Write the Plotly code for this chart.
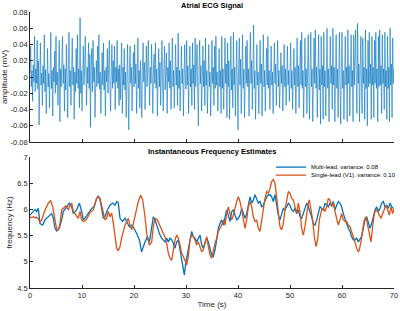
import numpy as np
import plotly.graph_objects as go

# ---------------- data ----------------
# Atrial ECG signal, values in microvolts (1 uV = 0.001 mV), sampled 8 times per second
ecg_uV = [
    5, 38, -12, 8, -30, 15, -6, 50, -18, 10, -8, 45, -15, 20, -59, 12,
    42, -10, 5, -35, 14, -8, 52, -18, 9, -45, 16, 35, -12, 4, -38, 20,
    55, -14, 8, -48, 12, -6, 32, -20, 50, -10, 6, -35, 18, 45, -55, 10,
    -12, 22, 50, -8, 15, -42, 10, -16, 40, -6, -50, 14, 55, -12, 8, -35,
    18, 48, -10, 12, -52, 6, -18, 35, -8, 52, -14, 10, -38, 73, -20, 8,
    -42, 14, 38, -10, 6, 50, -16, -35, 12, -8, 42, -14, 28, -62, 10, 35,
    -18, 45, -6, 12, -50, 8, 20, -12, 38, -8, 52, -15, 6, -45, 14, 30,
    -10, 42, -16, 8, -48, 12, -6, 35, -20, 10, 45, -12, -42, 8, 40, -14,
    20, -8, 38, -40, 12, -6, 45, -14, 10, -35, 15, -28, 8, 42, -45, 12,
    -10, 35, -16, 6, -50, 14, 40, -12, -65, 10, 38, -8, 12, -42, 6, 30,
    -12, 40, -8, 16, -45, 10, 48, -14, 8, -38, 20, -10, -50, 12, 42, -6,
    18, -40, 10, 38, -12, 6, 45, -16, -35, 12, -8, 40, -14, -45, 10, 28,
    -8, 42, -14, 10, -48, 6, 35, -12, 18, -35, 8, 45, -10, -42, 14, 38,
    -16, 8, 30, -45, 12, -6, 42, -14, 20, -40, 10, 48, -12, 8, -38, 15,
    40, -10, 12, -35, 54, -14, 8, -42, 16, 38, -8, 10, -48, 12, 40, -6,
    -15, 45, -10, 14, -45, 8, 38, -12, 10, -35, 42, -8, 15, -40, 48, -12,
    10, 40, -16, -60, 12, 45, -8, 14, -42, 6, 38, -12, 20, -35, 48, -10,
    8, -45, 15, 40, -12, 6, -48, 14, 45, -8, 12, -35, 38, -14, 50, -10,
    6, -42, 18, 35, -12, 8, -45, 50, -14, 10, -40, 12, 48, -8, 16, -50,
    42, -12, 20, -52, 8, 50, -16, 10, -38, 55, -10, 12, -48, 14, 45, -8,
    -65, 12, 48, -10, 22, -45, 8, 52, -14, 10, -50, 16, 38, -8, 45, -12,
    10, -48, 14, 55, -8, 20, -40, 12, 64, -14, 8, -52, 18, 40, -10, 6,
    -45, 12, 45, -8, 16, -48, 10, 52, -12, 8, -42, 14, 35, -10, 50, -14,
    8, -40, 14, 38, -10, 6, -45, 12, 42, -8, 16, -35, 10, 45, -12, 8,
    -38, 10, 30, -8, 14, -42, 6, 40, -12, 10, -35, 16, 38, -10, 8, -30,
    12, 42, -14, 8, -40, 16, 35, -10, 12, -45, 8, 48, -12, 14, -38, 10,
    45, -10, 55, -14, 8, -50, 16, 48, -12, 10, -45, 12, 52, -8, -52, 14,
    55, -12, 10, -55, 16, 48, -8, 58, -14, 12, -50, 8, 52, -16, 10, -58,
    50, -10, 14, -52, 55, -12, 8, -48, 16, 60, -14, 10, -55, 12, 50, -8,
    14, -40, 60, -10, 12, -55, 8, 52, -14, 10, -50, 16, 55, -12, -58, 10,
    55, -14, 8, -52, 16, 50, -10, 12, -55, 58, -8, 14, -48, 10, 52, -12,
    8, -55, 52, -10, 14, 58, -12, -45, 66, -8, 16, -55, 10, 50, -14, -45,
    48, -8, 12, -52, 58, -14, 10, -60, 45, -12, 55, -8, 16, -52, 50, -10,
    12, -50, 45, -8, 55, -14, 10, -55, 50, -12, 58, -10, 14, -45, 52, -8,
    10, -40, 55, -12, 8, -52, 50, -14, 12, -55, 60, -10, 16, -50, 48, -8,
    10,
]
ecg_fs = 8  # samples per second

# Multi-lead frequency estimate (Hz)
t_multi = [
    0, 0.51, 0.96, 1.28, 1.60, 1.92, 2.44, 2.88, 3.53, 4.17,
    4.49, 4.81, 5.13, 5.64, 6.09, 6.41, 7.05, 7.56, 8.01, 8.33,
    8.97, 9.49, 9.94, 10.26, 10.77, 11.22, 11.86, 12.31, 12.82, 13.14,
    13.46, 13.78, 14.10, 14.42, 14.87, 15.38, 15.90, 16.35, 16.67, 16.99,
    17.31, 17.82, 18.27, 18.59, 19.10, 19.55, 20.00, 20.51, 21.03, 21.47,
    21.79, 22.12, 22.56, 22.95,
    23.08, 23.40, 23.72, 24.04, 24.36, 24.68, 25.00, 25.32, 25.64, 25.96,
    26.29, 26.61, 26.93, 27.25, 27.57, 27.89, 28.21, 28.53, 28.85, 29.17,
    29.49, 29.68, 29.94, 30.26, 30.64,
    31.09, 31.41, 31.73, 32.05, 32.37, 32.70, 33.02, 33.34, 33.66, 33.98,
    34.30, 34.62, 34.94, 35.26, 35.58, 35.90, 36.22, 36.54, 36.86, 37.18,
    37.50, 37.82, 38.14, 38.46, 38.79, 39.11, 39.43, 39.75, 40.07, 40.39,
    40.71, 41.03, 41.35, 41.67, 41.99, 42.31, 42.63, 42.95, 43.27, 43.59,
    43.91, 44.23, 44.55, 44.87, 45.19, 45.52, 45.84,
    46.15, 46.47, 46.79, 47.11, 47.43, 47.75, 48.07, 48.39, 48.71, 49.03,
    49.36, 49.68, 50.00, 50.32, 50.64, 50.96, 51.28, 51.60, 51.92, 52.24,
    52.56, 52.88, 53.20, 53.52, 53.84, 54.16, 54.48, 54.80, 55.13, 55.45,
    55.77, 56.09, 56.41, 56.73, 57.05, 57.37, 57.69, 58.01, 58.33, 58.65,
    58.97, 59.29, 59.61, 59.93, 60.25, 60.57, 60.89, 61.21, 61.53, 61.86,
    62.18, 62.50, 62.82, 63.14, 63.46, 63.78, 64.10, 64.42, 64.74, 65.06,
    65.38, 65.70, 66.03, 66.35, 66.67, 66.99, 67.31, 67.63, 67.95, 68.27,
    68.59, 68.91, 69.23, 69.55, 69.87,
]
f_multi = [
    5.89, 5.94, 6.00, 5.96, 6.02, 5.73, 5.70, 5.80, 5.86, 5.92,
    5.83, 5.64, 5.59, 5.64, 5.80, 5.96, 6.05, 6.12, 6.05, 5.92,
    5.99, 6.12, 5.96, 5.80, 5.86, 5.92, 6.02, 6.05, 6.21, 6.26,
    6.18, 6.02, 5.83, 5.86, 5.99, 6.08, 6.12, 6.08, 6.15, 6.12,
    5.83, 5.77, 5.83, 5.77, 5.67, 5.70, 5.64, 5.54, 5.42, 5.19,
    5.29, 5.38, 5.48, 5.38,
    5.45, 5.70, 5.86, 5.80, 5.70, 5.61, 5.51, 5.45, 5.42, 5.38,
    5.45, 5.38, 5.45, 5.42, 5.35, 5.26, 5.38, 5.42, 5.23, 5.07,
    4.91, 4.75, 4.97, 5.16, 5.38,
    5.58, 5.48, 5.45, 5.38, 5.45, 5.51, 5.32, 5.26, 5.38, 5.45,
    5.38, 5.23, 5.13, 5.10, 5.23, 5.42, 5.64, 5.73, 5.80, 5.70,
    5.86, 5.99, 5.89, 5.77, 5.96, 5.99, 5.89, 5.80, 5.83, 5.89,
    6.02, 5.92, 5.83, 5.92, 6.12, 6.24, 6.12, 6.18, 6.28, 6.21,
    6.12, 6.15, 6.05, 6.08, 6.18, 6.24, 6.28,
    6.28, 6.24, 6.15, 6.28, 6.05, 5.89, 5.80, 5.92, 6.02, 5.99,
    6.05, 6.12, 6.08, 5.99, 5.96, 6.02, 5.92, 5.99, 5.86, 5.83,
    5.92, 6.05, 6.12, 6.05, 5.96, 5.86, 5.73, 5.70, 5.80, 5.96,
    6.05, 6.02, 5.99, 6.12, 6.08, 6.05, 6.12, 6.08, 6.15, 5.99,
    6.08, 6.15, 6.12, 6.05, 5.92, 5.80, 5.73, 5.64, 5.58, 5.48,
    5.42, 5.42, 5.45, 5.38, 5.42, 5.48, 5.64, 5.80, 5.86, 5.77,
    5.64, 5.73, 5.86, 5.99, 6.05, 5.96, 6.02, 6.12, 6.15, 6.05,
    6.08, 6.02, 6.12, 6.05, 6.02,
]

# Single-lead (V1) frequency estimate (Hz)
t_single = [
    0, 0.32, 0.64, 0.96, 1.28, 1.60, 1.92, 2.24, 2.88, 3.53,
    3.97, 4.36, 4.81, 5.13, 5.45, 5.77, 6.09, 6.41, 6.92, 7.37,
    7.69, 8.01, 8.33, 8.85, 9.29, 9.62, 9.94, 10.26, 10.90, 11.54,
    12.18, 12.82, 13.14, 13.46, 13.78, 14.10, 14.42, 14.74, 15.06, 15.38,
    15.71, 16.03, 16.35, 16.67, 16.99, 17.31, 17.63, 17.95, 18.27, 18.59,
    18.91, 19.23, 19.55, 19.87, 20.38, 20.83, 21.28, 21.67, 22.12, 22.44,
    22.95,
    23.40, 23.72, 24.04, 24.49, 25.00, 25.32, 25.64, 25.96, 26.29, 26.61,
    26.93, 27.25, 27.57, 27.89, 28.21, 28.53, 28.85, 29.17, 29.49, 29.81,
    30.13, 30.45, 30.77, 31.09, 31.41, 31.73, 32.05, 32.37, 32.70, 33.02,
    33.34, 33.66, 33.98, 34.30, 34.62, 34.94, 35.26, 35.58, 35.90, 36.22,
    36.54, 36.86, 37.18, 37.50, 37.82, 38.14, 38.46, 38.79, 39.11, 39.43,
    39.75, 40.07, 40.39, 40.71, 41.03, 41.35, 41.67, 41.99, 42.31, 42.63,
    42.95, 43.27, 43.59, 43.91, 44.23, 44.55, 44.87, 45.19, 45.52, 45.84,
    46.15, 46.47, 46.79, 47.11, 47.43, 47.75, 48.07, 48.39, 48.71, 49.03,
    49.36, 49.68, 50.00, 50.32, 50.64, 50.96, 51.28, 51.60, 51.92, 52.24,
    52.56, 52.88, 53.20, 53.52, 53.71, 53.97, 54.36, 54.68, 55.00, 55.32,
    55.64, 56.09, 56.41, 56.73, 57.05, 57.37, 57.69, 58.01, 58.33, 58.65,
    58.97, 59.29, 59.61, 59.93, 60.25, 60.57, 60.89, 61.21, 61.53, 61.86,
    62.18, 62.50, 62.82, 63.14, 63.33, 63.65, 63.97, 64.29, 64.61, 64.93,
    65.25, 65.57, 65.89, 66.21, 66.53, 66.86, 67.18, 67.50, 67.82, 68.14,
    68.46, 68.78, 69.10, 69.42, 69.74, 70.00,
]
f_single = [
    5.86, 5.84, 5.86, 5.84, 5.85, 5.82, 5.75, 5.80, 5.99, 6.12,
    6.17, 6.05, 5.80, 5.62, 5.61, 5.73, 5.99, 6.02, 6.07, 5.99,
    6.08, 6.12, 5.96, 5.89, 5.83, 5.96, 5.80, 5.77, 5.81, 5.94,
    5.99, 6.21, 6.24, 6.21, 6.05, 5.93, 5.80, 5.83, 5.96, 5.86,
    5.93, 5.73, 5.48, 5.26, 5.21, 5.29, 5.46, 5.61, 5.70, 5.77,
    5.83, 5.70, 5.61, 5.73, 5.99, 6.15, 6.27, 6.18, 5.86, 5.54,
    5.32,
    5.38, 5.67, 5.83, 5.80, 5.67, 5.61, 5.54, 5.48, 5.35, 5.16,
    5.07, 5.03, 5.23, 5.42, 5.51, 5.45, 5.32, 5.16, 5.10, 5.00,
    4.94, 5.10, 5.42, 5.51, 5.48, 5.42, 5.32, 5.38, 5.29, 5.19,
    5.23, 5.35, 5.48, 5.29, 5.13, 5.07, 5.23, 5.35, 5.45, 5.58,
    5.64, 5.70, 5.80, 5.70, 5.92, 6.05, 5.92, 5.80, 5.89, 6.05,
    6.15, 6.24, 6.15, 5.99, 5.80, 5.64, 5.80, 6.05, 6.15, 6.05,
    5.86, 5.77, 5.80, 5.64, 5.58, 5.80, 6.05, 6.21, 6.34, 6.31,
    6.40, 6.53, 6.57, 6.50, 6.24, 5.99, 5.67, 5.61, 5.73, 5.99,
    6.21, 6.34, 6.31, 6.21, 6.18, 6.05, 5.92, 6.12, 5.96, 5.64,
    5.51, 5.67, 5.92, 6.12, 6.18, 6.05, 5.80, 5.48, 5.29, 5.42,
    5.80, 5.99, 6.02, 5.96, 6.05, 6.21, 6.18, 6.05, 6.12, 5.96,
    5.83, 5.70, 5.80, 5.92, 5.80, 5.77, 5.77, 5.70, 5.67, 5.58,
    5.48, 5.38, 5.26, 5.19, 5.23, 5.38, 5.61, 5.80, 5.86, 5.70,
    5.48, 5.38, 5.67, 5.92, 5.99, 5.96, 5.89, 5.83, 5.92, 5.99,
    6.08, 5.99, 5.89, 6.05, 5.92, 6.02,
]

amp_tickvals = [-0.08, -0.06, -0.04, -0.02, 0, 0.02, 0.04, 0.06, 0.08]
amp_ticktext = ["-0.08", "-0.06", "-0.04", "-0.02", "0", "0.02", "0.04", "0.06", "0.08"]
freq_tickvals = [4.5, 5, 5.5, 6, 6.5, 7]
time_tickvals = [0, 10, 20, 30, 40, 50, 60, 70]

label_multi = "Multi-lead, variance: 0.08"
label_single = "Single-lead (V1), variance: 0.10"
title_top = "Atrial ECG Signal"
title_bottom = "Instantaneous Frequency Estimates"

# ---------------- figure ----------------
BLUE = "#0072BD"
ORANGE = "#D95319"
AX = "#262626"
FONT = "Liberation Sans, Arial, Helvetica, sans-serif"

ecg_time = np.arange(len(ecg_uV)) / ecg_fs
ecg_mV = np.array(ecg_uV) / 1000.0

fig = go.Figure()
fig.add_trace(go.Scatter(x=ecg_time, y=ecg_mV, mode="lines",
                         line=dict(color=BLUE, width=0.6),
                         xaxis="x", yaxis="y", showlegend=False,
                         name="Atrial ECG"))
fig.add_trace(go.Scatter(x=t_multi, y=f_multi, mode="lines",
                         line=dict(color=BLUE, width=1.3),
                         xaxis="x2", yaxis="y2", name=label_multi,
                         legend="legend"))
fig.add_trace(go.Scatter(x=t_single, y=f_single, mode="lines",
                         line=dict(color=ORANGE, width=1.3),
                         xaxis="x2", yaxis="y2", name=label_single,
                         legend="legend2"))

axc = dict(showline=True, linecolor=AX, linewidth=0.8, ticks="inside",
           ticklen=3, tickwidth=0.8, tickcolor=AX, showgrid=False,
           zeroline=False, mirror=False, automargin=False,
           tickfont=dict(size=7.5, color=AX, family=FONT))

leg = dict(font=dict(size=6, color="#000000", family=FONT),
           bgcolor="rgba(0,0,0,0)", borderwidth=0,
           xanchor="left", yanchor="middle", itemwidth=30)

fig.update_layout(
    width=400, height=311,
    margin=dict(l=30, r=6, t=12, b=23, autoexpand=False),
    paper_bgcolor="white", plot_bgcolor="white",
    font=dict(family=FONT, color=AX),
    xaxis=dict(domain=[0, 1], range=[0, 70], tickvals=time_tickvals,
               showticklabels=False, anchor="y", **axc),
    yaxis=dict(domain=[0.529, 1], range=[-0.08, 0.08],
               tickvals=amp_tickvals, ticktext=amp_ticktext, anchor="x",
               title=dict(text="amplitude (mV)", font=dict(size=8, color=AX), standoff=3),
               **axc),
    xaxis2=dict(domain=[0, 1], range=[0, 70], tickvals=time_tickvals,
                anchor="y2",
                title=dict(text="Time (s)", font=dict(size=8, color=AX), standoff=2),
                **axc),
    yaxis2=dict(domain=[0, 0.4746], range=[4.5, 7], tickvals=freq_tickvals,
                anchor="x2",
                title=dict(text="frequency (Hz)", font=dict(size=8, color=AX), standoff=3),
                **axc),
    legend=dict(x=0.662, y=0.438, **leg),
    legend2=dict(x=0.662, y=0.409, **leg),
    annotations=[
        dict(text="<b>" + title_top + "</b>", x=0.5, xref="paper",
             y=1.022, yref="paper", xanchor="center", yanchor="middle",
             showarrow=False, font=dict(size=7.5, color="#000000", family=FONT)),
        dict(text="<b>" + title_bottom + "</b>", x=0.5, xref="paper",
             y=0.4928, yref="paper", xanchor="center", yanchor="middle",
             showarrow=False, font=dict(size=7.5, color="#000000", family=FONT)),
    ],
)

fig.write_html("out.html",
               config={"displayModeBar": False},
               post_script="document.body.style.margin='0';"
                           "document.body.style.padding='0';"
                           "document.documentElement.style.overflow='hidden';")
